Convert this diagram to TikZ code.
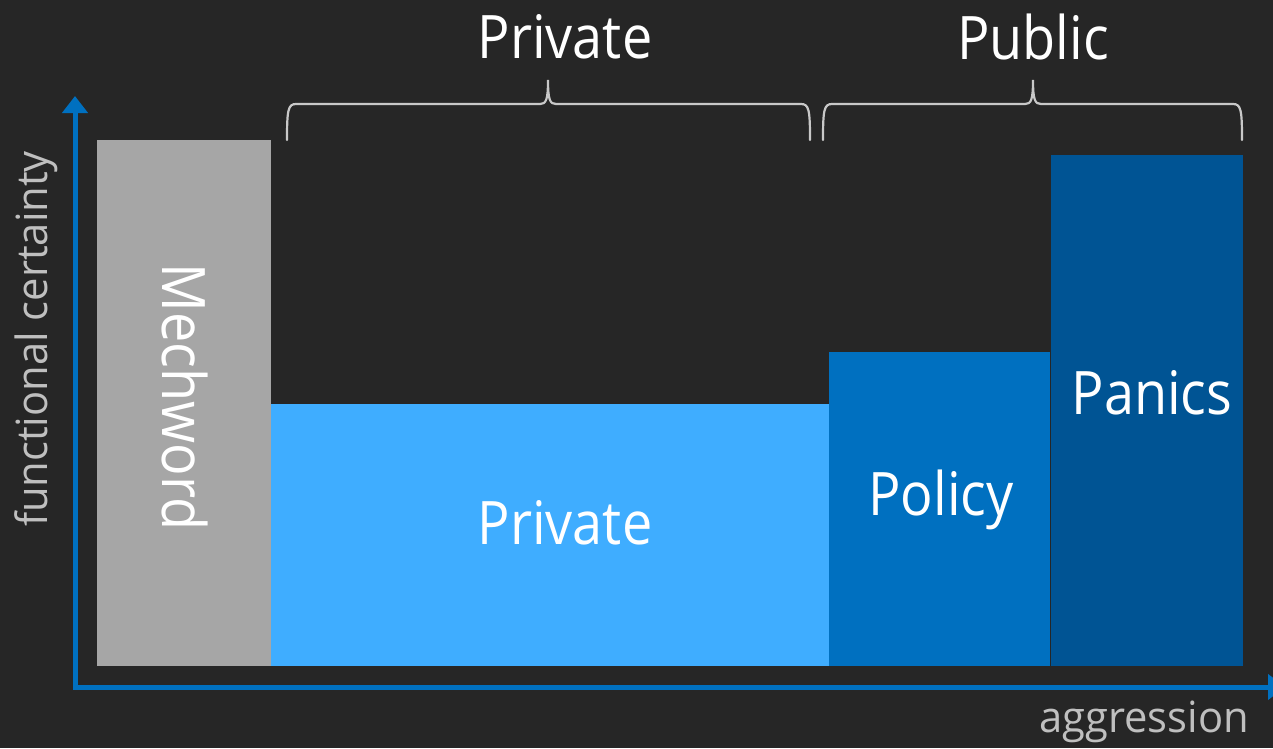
\documentclass[tikz,border=0pt]{standalone}
\usepackage{fontspec}
\setmainfont{Open Sans}
\newfontfamily\narrowfont[FakeStretch=0.9]{Open Sans}
\newfontfamily\axisfont[FakeStretch=0.97]{Open Sans}
\usetikzlibrary{arrows.meta}
\definecolor{bg}{HTML}{262626}
\definecolor{axisblue}{HTML}{0070C0}
\definecolor{mechgray}{HTML}{A6A6A6}
\definecolor{privblue}{HTML}{3FADFF}
\definecolor{polblue}{HTML}{0070C0}
\definecolor{panblue}{HTML}{005494}
\definecolor{lblgray}{HTML}{BFBFBF}
\definecolor{brgray}{HTML}{C8C8C8}
\tikzset{
  bar/.style={inner sep=0pt, outer sep=0pt},
  biglabel/.style={text=white, font=\narrowfont\fontsize{60}{66}\selectfont, inner sep=0pt},
  axislabel/.style={text=lblgray, font=\axisfont\fontsize{43}{48}\selectfont, inner sep=0pt},
  axisline/.style={draw=axisblue, line width=5pt, -{Triangle[width=25pt,length=17pt]}},
  bracketline/.style={draw=brgray, line width=2.2pt, line cap=round}
}
\begin{document}
\begin{tikzpicture}[x=1pt,y=-1pt]
\fill[bg] (0,0) rectangle (1273,748);
\useasboundingbox (0,0) rectangle (1273,748);
% bars
\fill[mechgray] (97,140) rectangle (271,666);
\fill[privblue] (271,404) rectangle (829,666);
\fill[polblue] (829,352) rectangle (1050,666);
\fill[panblue] (1051,155) rectangle (1243,666);
% labels inside bars
\node[biglabel, rotate=-90] (mech) at (185,397) {Mechword};
\node[biglabel] (priv) at (565,523) {Private};
\node[biglabel] (pol) at (941,500) {Policy};
\node[biglabel] (pan) at (1152,393) {Panics};
% axes
\coordinate (origin) at (75,688);
\coordinate (ytip) at (75,96);
\coordinate (xstart) at (73,687);
\coordinate (xtip) at (1285,687);
\draw[axisline] (origin) -- (ytip);
\draw[axisline] (xstart) -- (xtip);
\node[axislabel, rotate=90] (ylab) at (36,339) {functional certainty};
\node[axislabel] (xlab) at (1144,722) {aggression};
% brackets
\draw[bracketline] (287,140) .. controls (287,110) and (288,104) .. (296,104) -- (540,104) .. controls (546,104) and (548,100) .. (548,80) .. controls (548,100) and (550,104) .. (556,104) -- (801,104) .. controls (809,104) and (810,110) .. (810,140);
\draw[bracketline] (823,140) .. controls (823,110) and (824,104) .. (832,104) -- (1025,104) .. controls (1031,104) and (1033,100) .. (1033,80) .. controls (1033,100) and (1035,104) .. (1041,104) -- (1233,104) .. controls (1241,104) and (1242,110) .. (1242,140);
\node[biglabel] (privtop) at (565,37) {Private};
\node[biglabel] (pubtop) at (1033,37) {Public};
\end{tikzpicture}
\end{document}
